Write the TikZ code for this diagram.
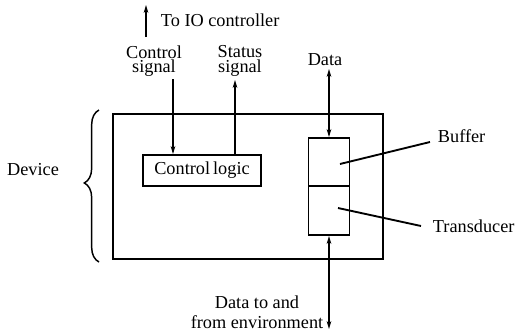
\documentclass[tikz,border=0pt]{standalone}
\usepackage{fontspec}
\setmainfont{Liberation Serif}
\usetikzlibrary{arrows.meta,positioning,calc,decorations.pathreplacing}

\begin{document}
\begin{tikzpicture}[x=0.75pt, y=-0.75pt, line width=1.4pt,
  every node/.style={font=\fontsize{13.7}{15}\selectfont, inner sep=0pt},
  box/.style={draw, rectangle},
  tight/.style={align=center, font=\fontsize{13.7}{11}\selectfont},
  arr/.style={-{Stealth[length=6pt,width=3.5pt]}},
  darr/.style={{Stealth[length=6pt,width=3.5pt]}-{Stealth[length=6pt,width=3.5pt]}}]
  \useasboundingbox (0,0) rectangle (519,333);
  % boites
  \node[box, minimum width=202.5pt, minimum height=108.75pt] (device) at (248,186.5) {};
  \node[box, minimum width=88.5pt, minimum height=23.25pt] (ctrl) at (202,170.5) {Control\,logic};
  \node[box, minimum width=30.75pt, minimum height=36pt] (buffer) at (329,162) {};
  \node[box, minimum width=30.75pt, minimum height=36.75pt] (transducer) at (329,210.5) {};
  % etiquettes du haut
  \node[anchor=west] (toio) at (160,20) {To IO controller};
  \coordinate (iobot) at (146,37);
  \coordinate (iotop) at (146,5);
  \draw[arr, line width=1.1pt] (iobot) -- (iotop);
  \node[tight] (ctrlsig) at (154,61) {Control\\signal};
  \node[tight] (statsig) at (240,61) {Status\\signal};
  \node (data) at (325,60) {Data};
  \coordinate (csig) at (173,79);
  \coordinate (ssig) at (235,80);
  \coordinate (dsig) at (329,69);
  \draw[arr] (csig) -- (csig |- ctrl.north);
  \draw[arr] (ssig |- ctrl.north) -- (ssig);
  \draw[darr] (dsig) -- (buffer.north);
  % environnement
  \node[align=center] (env) at (257,312) {Data to and\\from environment};
  \coordinate (envend) at (329,329);
  \draw[darr] (transducer.south) -- (envend);
  % legendes droite
  \node[anchor=west] (buflab) at (437,136) {Buffer};
  \node[anchor=west] (translab) at (432,226) {Transducer};
  \coordinate (bufin) at (340,164);
  \coordinate (bufout) at (430,142);
  \coordinate (trin) at (338,208);
  \coordinate (trout) at (421,226);
  \draw (bufin) -- (bufout);
  \draw (trin) -- (trout);
  % accolade
  \node (dev) at (33,170) {Device};
  \coordinate (brbot) at (99,262);
  \coordinate (brtop) at (99,110);
  \draw[line width=1.1pt, decorate, decoration={brace, amplitude=11pt, aspect=0.52}] (brbot) -- (brtop);
\end{tikzpicture}
\end{document}
